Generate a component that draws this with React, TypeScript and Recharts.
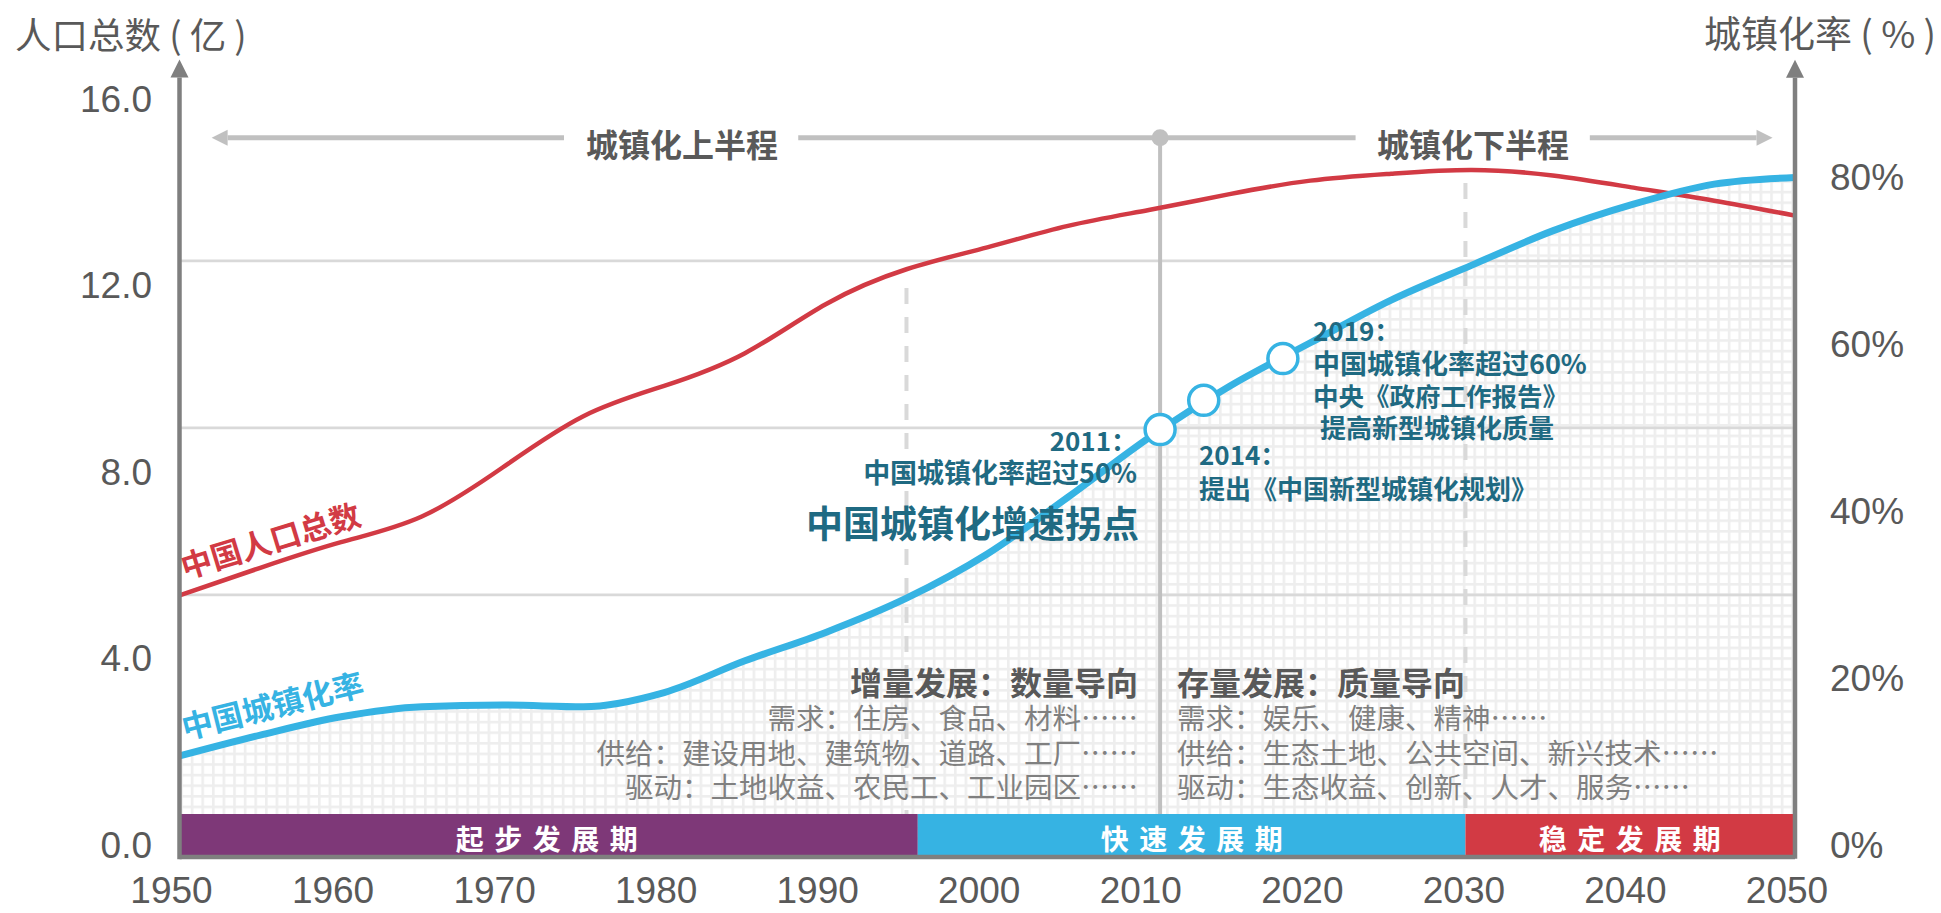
import React from "react";
import {
  ComposedChart,
  Line,
  Area,
  XAxis,
  YAxis,
  ReferenceLine,
  ReferenceArea,
  ReferenceDot,
} from "recharts";

const FONT = "'Noto Sans CJK SC', 'Noto Sans', sans-serif";
const NUM_FONT = "'Liberation Sans', Arial, sans-serif";

// 年份与两条曲线
const years = [
  1950, 1955, 1960, 1965, 1970, 1975, 1980, 1985, 1990, 1995, 2000, 2005, 2010,
  2015, 2020, 2025, 2030, 2035, 2040, 2045, 2050,
];
// 中国人口总数（亿）
const population = [
  5.36, 5.95, 6.5, 7.05, 8.1, 9.2, 9.85, 10.55, 11.6, 12.35, 12.82, 13.28, 13.62,
  13.96, 14.25, 14.4, 14.48, 14.36, 14.1, 13.82, 13.5,
];
// 中国城镇化率（%）
const urbanRate = [
  10.7, 13.2, 15.4, 16.6, 16.8, 16.6, 18.3, 22.1, 25.5, 29.6, 34.9, 41.7, 48.8,
  55.0, 60.2, 65.3, 69.5, 73.6, 76.8, 79.2, 80.0,
];

const xTicks = [1950, 1960, 1970, 1980, 1990, 2000, 2010, 2020, 2030, 2040, 2050];
const leftTicks = [0, 4, 8, 12, 16];
const rightTicks = [0, 20, 40, 60, 80];
const rateGridLines = [30, 50, 70];

// 发展阶段
const stageNames = ["起步发展期", "快速发展期", "稳定发展期"];
const stageStart = [1950, 1995.7, 2029.6];
const stageEnd = [1995.7, 2029.6, 2050];
const stageColors = ["#7e3878", "#36b3e3", "#d23a44"];

// 时间节点（圆圈）
const milestoneYears = [2010.7, 2013.4, 2018.3];
const milestoneRates = [49.8, 53.3, 58.3];

// 分隔线
const dashedYears = [1995, 2029.6];
const dashedTops = [11.95, 14.2];
const halfLineY = 15.17;

const data = years.map((year, i) => ({
  year,
  pop: population[i],
  rate: urbanRate[i],
}));

const GRAY_AXIS = "#7f7f7f";
const LIGHT = "#c0c0c0";
const TEAL = "#1f6a82";

const XTick = (props: any) => (
  <text
    x={props.x - 8}
    y={890}
    textAnchor="middle"
    dominantBaseline="central"
    fontSize={37}
    fontFamily={NUM_FONT}
    fill="#595959"
  >
    {props.payload.value}
  </text>
);

const LeftTick = (props: any) => (
  <text
    x={152}
    y={props.y}
    textAnchor="end"
    dominantBaseline="central"
    fontSize={37}
    fontFamily={NUM_FONT}
    fill="#595959"
  >
    {Number(props.payload.value).toFixed(1)}
  </text>
);

const RightTick = (props: any) => (
  <text
    x={1830}
    y={props.y}
    textAnchor="start"
    dominantBaseline="central"
    fontSize={37}
    fontFamily={NUM_FONT}
    fill="#595959"
  >
    {props.payload.value}%
  </text>
);

const upArrow = (p: any) => (
  <path d={`M${p.cx - 9},${p.cy} L${p.cx + 9},${p.cy} L${p.cx},${p.cy - 18} Z`} fill={GRAY_AXIS} />
);
const leftArrow = (p: any) => (
  <path d={`M${p.cx},${p.cy - 8} L${p.cx},${p.cy + 8} L${p.cx - 16},${p.cy} Z`} fill={LIGHT} />
);
const rightArrow = (p: any) => (
  <path d={`M${p.cx},${p.cy - 8} L${p.cx},${p.cy + 8} L${p.cx + 16},${p.cy} Z`} fill={LIGHT} />
);

function Overlay() {
  const note = { fontFamily: FONT, fontWeight: 700, fill: TEAL, dominantBaseline: "central" as const };
  const grayBold = { fontFamily: FONT, fontWeight: 700, fill: "#595959", dominantBaseline: "central" as const };
  const grayReg = { fontFamily: FONT, fontWeight: 400, fill: "#808080", dominantBaseline: "central" as const, fontSize: 28.5 };
  const bandCenters = [547, 1192, 1630];
  return (
    <svg
      width={1941}
      height={913}
      style={{ position: "absolute", left: 0, top: 0, pointerEvents: "none" }}
    >
      <text x={15} y={33} fontSize={36.5} fontFamily={FONT} fill="#595959" dominantBaseline="central">
        人口总数 ( 亿 )
      </text>
      <text x={1936} y={32} fontSize={37} fontFamily={FONT} fill="#595959" textAnchor="end" dominantBaseline="central">
        城镇化率 ( % )
      </text>

      <text x={682} y={143} fontSize={32} textAnchor="middle" {...grayBold}>城镇化上半程</text>
      <text x={1473} y={143} fontSize={32} textAnchor="middle" {...grayBold}>城镇化下半程</text>

      <text x={270} y={539} fontSize={31} fontFamily={FONT} fontWeight={700} fill="#d23a44"
        textAnchor="middle" dominantBaseline="central" transform="rotate(-17 270 539)">
        中国人口总数
      </text>
      <text x={272} y={704} fontSize={31} fontFamily={FONT} fontWeight={700} fill="#36b3e3"
        textAnchor="middle" dominantBaseline="central" transform="rotate(-14 272 704)">
        中国城镇化率
      </text>

      <text x={1137} y={439} fontSize={26} textAnchor="end" {...note}>2011：</text>
      <text x={1137} y={471} fontSize={27} textAnchor="end" {...note}>中国城镇化率超过50%</text>
      <text x={1139} y={522} fontSize={37} textAnchor="end" {...note}>中国城镇化增速拐点</text>

      <text x={1199} y={453} fontSize={26} {...note}>2014：</text>
      <text x={1199} y={487} fontSize={26} {...note}>提出《中国新型城镇化规划》</text>

      <text x={1313} y={329} fontSize={26} {...note}>2019：</text>
      <text x={1313} y={362} fontSize={27} {...note}>中国城镇化率超过60%</text>
      <text x={1313} y={394} fontSize={25.5} {...note}>中央《政府工作报告》</text>
      <text x={1320} y={426} fontSize={26} {...note}>提高新型城镇化质量</text>

      <text x={1138} y={681} fontSize={32} textAnchor="end" {...grayBold}>增量发展：数量导向</text>
      <text x={1138} y={716} textAnchor="end" {...grayReg}>需求：住房、食品、材料……</text>
      <text x={1138} y={751} textAnchor="end" {...grayReg}>供给：建设用地、建筑物、道路、工厂……</text>
      <text x={1138} y={785} textAnchor="end" {...grayReg}>驱动：土地收益、农民工、工业园区……</text>

      <text x={1177} y={681} fontSize={32} {...grayBold}>存量发展：质量导向</text>
      <text x={1177} y={716} {...grayReg}>需求：娱乐、健康、精神……</text>
      <text x={1177} y={751} {...grayReg}>供给：生态土地、公共空间、新兴技术……</text>
      <text x={1177} y={785} {...grayReg}>驱动：生态收益、创新、人才、服务……</text>

      {stageNames.map((name, i) => (
        <text
          key={name}
          x={bandCenters[i] + 5}
          y={838}
          fontSize={28}
          fontFamily={FONT}
          fontWeight={700}
          fill="#ffffff"
          textAnchor="middle"
          dominantBaseline="central"
          letterSpacing={10.5}
        >
          {name}
        </text>
      ))}
    </svg>
  );
}

export default function App() {
  return (
    <div style={{ position: "absolute", left: 0, top: 0, width: 1941, height: 913, background: "#fff" }}>
      <svg width={0} height={0} style={{ position: "absolute" }}>
        <defs>
          <pattern id="cellPattern" width={10.6} height={10.6} patternUnits="userSpaceOnUse">
            <rect width={10.6} height={10.6} fill="#eeeeee" />
            <rect x={2.6} y={2.6} width={8} height={8} fill="#ffffff" />
          </pattern>
        </defs>
      </svg>
      <ComposedChart
        width={1941}
        height={913}
        data={data}
        margin={{ top: 99, right: 0, bottom: 0, left: 0 }}
      >
        <XAxis
          dataKey="year"
          type="number"
          domain={[1950, 2050]}
          ticks={xTicks}
          interval={0}
          height={56}
          tickLine={false}
          axisLine={{ stroke: GRAY_AXIS, strokeWidth: 4.5 }}
          tick={XTick}
        />
        <YAxis
          yAxisId="left"
          width={179.5}
          domain={[-0.25, 16]}
          ticks={leftTicks}
          interval={0}
          axisLine={false}
          tickLine={false}
          tick={LeftTick}
          allowDataOverflow
        />
        <YAxis
          yAxisId="right"
          orientation="right"
          width={146}
          domain={[-1.4, 89.4]}
          ticks={rightTicks}
          interval={0}
          axisLine={false}
          tickLine={false}
          tick={RightTick}
          allowDataOverflow
        />

        <Area
          yAxisId="right"
          dataKey="rate"
          type="monotone"
          stroke="none"
          fill="url(#cellPattern)"
          fillOpacity={1}
          isAnimationActive={false}
        />

        {rateGridLines.map((v) => (
          <ReferenceLine key={v} yAxisId="right" y={v} stroke="#d9d9d9" strokeWidth={2.7} />
        ))}

        {dashedYears.map((yr, i) => (
          <ReferenceLine
            key={yr}
            yAxisId="left"
            segment={[{ x: yr, y: dashedTops[i] }, { x: yr, y: 0.67 }]}
            stroke="#d9d9d9"
            strokeWidth={4}
            strokeDasharray="16 13"
          />
        ))}

        {/* 城镇化上半程 / 下半程 */}
        <ReferenceLine yAxisId="left" segment={[{ x: 1952.98, y: halfLineY }, { x: 1973.8, y: halfLineY }]} stroke={LIGHT} strokeWidth={5} ifOverflow="visible" />
        <ReferenceLine yAxisId="left" segment={[{ x: 1988.3, y: halfLineY }, { x: 2022.8, y: halfLineY }]} stroke={LIGHT} strokeWidth={5} ifOverflow="visible" />
        <ReferenceLine yAxisId="left" segment={[{ x: 2037.3, y: halfLineY }, { x: 2047.62, y: halfLineY }]} stroke={LIGHT} strokeWidth={5} ifOverflow="visible" />
        <ReferenceDot yAxisId="left" x={1952.98} y={halfLineY} r={8} shape={leftArrow} ifOverflow="visible" />
        <ReferenceDot yAxisId="left" x={2047.62} y={halfLineY} r={8} shape={rightArrow} ifOverflow="visible" />
        <ReferenceLine yAxisId="left" segment={[{ x: milestoneYears[0], y: halfLineY }, { x: milestoneYears[0], y: 0.67 }]} stroke={LIGHT} strokeWidth={4} />
        <ReferenceDot yAxisId="left" x={milestoneYears[0]} y={halfLineY} r={8.5} fill={LIGHT} stroke="none" />

        <Line
          yAxisId="left"
          dataKey="pop"
          type="natural"
          stroke="#d23a44"
          strokeWidth={4.5}
          dot={false}
          isAnimationActive={false}
        />
        <Line
          yAxisId="right"
          dataKey="rate"
          type="monotone"
          stroke="#36b3e3"
          strokeWidth={7}
          dot={false}
          isAnimationActive={false}
        />

        {milestoneYears.map((yr, i) => (
          <ReferenceDot
            key={yr}
            yAxisId="right"
            x={yr}
            y={milestoneRates[i]}
            r={15}
            fill="#ffffff"
            stroke="#36b3e3"
            strokeWidth={3.5}
          />
        ))}

        {stageNames.map((name, i) => (
          <ReferenceArea
            key={name}
            yAxisId="right"
            x1={stageStart[i]}
            x2={stageEnd[i]}
            y1={-1.4}
            y2={3.75}
            fill={stageColors[i]}
            fillOpacity={1}
            stroke="none"
            ifOverflow="visible"
          />
        ))}

        {/* 坐标轴箭头 */}
        <ReferenceLine yAxisId="left" segment={[{ x: 1950, y: -0.3 }, { x: 1950, y: 16.46 }]} stroke={GRAY_AXIS} strokeWidth={4.5} ifOverflow="visible" />
        <ReferenceDot yAxisId="left" x={1950} y={16.46} r={9} shape={upArrow} ifOverflow="visible" />
        <ReferenceLine yAxisId="right" segment={[{ x: 2050, y: -1.6 }, { x: 2050, y: 91.95 }]} stroke={GRAY_AXIS} strokeWidth={4.5} ifOverflow="visible" />
        <ReferenceDot yAxisId="right" x={2050} y={91.95} r={9} shape={upArrow} ifOverflow="visible" />
      </ComposedChart>
      <Overlay />
    </div>
  );
}
